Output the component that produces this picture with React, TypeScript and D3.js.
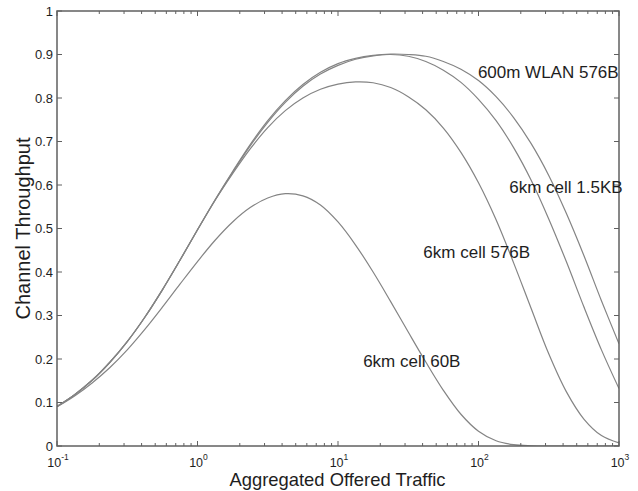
import React from "react";
import * as d3 from "d3";

// Offered traffic G (log-spaced samples, 8 per decade)
const offeredTraffic = [
  0.1, 0.1334, 0.1778, 0.2371, 0.3162, 0.4217, 0.5623, 0.7499,
  1, 1.334, 1.778, 2.371, 3.162, 4.217, 5.623, 7.499,
  10, 13.34, 17.78, 23.71, 31.62, 42.17, 56.23, 74.99,
  100, 133.4, 177.8, 237.1, 316.2, 421.7, 562.3, 749.9, 1000,
];

// Channel throughput S for each configuration
const wlan600m576B = [
  0.091, 0.118, 0.151, 0.192, 0.24, 0.296, 0.359, 0.427,
  0.497, 0.566, 0.631, 0.693, 0.748, 0.794, 0.831, 0.859,
  0.879, 0.891, 0.898, 0.901, 0.9, 0.896, 0.884, 0.866,
  0.84, 0.803, 0.755, 0.695, 0.622, 0.535, 0.438, 0.334, 0.235,
];
const cell6km1500B = [
  0.091, 0.118, 0.151, 0.192, 0.24, 0.296, 0.359, 0.427,
  0.497, 0.565, 0.629, 0.69, 0.744, 0.79, 0.827, 0.855,
  0.875, 0.889, 0.897, 0.9, 0.896, 0.884, 0.864, 0.836,
  0.797, 0.748, 0.686, 0.611, 0.522, 0.424, 0.32, 0.221, 0.132,
];
const cell6km576B = [
  0.091, 0.118, 0.151, 0.192, 0.24, 0.296, 0.359, 0.427,
  0.497, 0.565, 0.626, 0.683, 0.732, 0.771, 0.8, 0.82,
  0.832, 0.837, 0.835, 0.824, 0.803, 0.773, 0.731, 0.675,
  0.605, 0.52, 0.421, 0.316, 0.212, 0.125, 0.062, 0.024, 0.007,
];
const cell6km60B = [
  0.09, 0.115, 0.145, 0.18, 0.221, 0.268, 0.319, 0.372,
  0.424, 0.473, 0.515, 0.548, 0.57, 0.58, 0.575, 0.554,
  0.515, 0.462, 0.4, 0.332, 0.262, 0.193, 0.128, 0.073,
  0.034, 0.012, 0.003, 0.0005, 0, 0, 0, 0, 0,
];

const seriesList = [wlan600m576B, cell6km1500B, cell6km576B, cell6km60B];

// In-plot curve labels, anchored in data coordinates (traffic, throughput)
const labelTexts = ["600m WLAN 576B", "6km cell 1.5KB", "6km cell 576B", "6km cell 60B"];
const labelTraffic = [99, 165.6, 40.5, 15.1];
const labelThroughput = [0.846, 0.582, 0.432, 0.182];

const yTicks = [0, 0.1, 0.2, 0.3, 0.4, 0.5, 0.6, 0.7, 0.8, 0.9, 1];
const yTickLabels = ["0", "0.1", "0.2", "0.3", "0.4", "0.5", "0.6", "0.7", "0.8", "0.9", "1"];
const xDecades = [0.1, 1, 10, 100, 1000];
const xDecadeExponents = ["-1", "0", "1", "2", "3"];

const W = 638;
const H = 491;
const left = 57;
const right = 619;
const top = 11;
const bottom = 446;
const FONT = "'Liberation Sans', Arial, Helvetica, sans-serif";

export default function App() {
  const x = d3.scaleLog().domain([0.1, 1000]).range([left, right]);
  const y = d3.scaleLinear().domain([0, 1]).range([bottom, top]);

  const line = d3
    .line<number>()
    .x((_, i) => x(offeredTraffic[i]))
    .y((d) => y(d))
    .curve(d3.curveCatmullRom.alpha(0.5));

  const minorTicks = x
    .ticks()
    .filter((t) => !xDecades.some((dv) => Math.abs(dv - t) / dv < 1e-6));

  const axisColor = "#606060";
  const textColor = "#1e1e1e";

  return (
    <svg
      width={W}
      height={H}
      style={{ position: "absolute", left: 0, top: 0, background: "#fff" }}
      fontFamily={FONT}
    >
      <defs>
        <clipPath id="plot-area">
          <rect x={left} y={top} width={right - left} height={bottom - top} />
        </clipPath>
      </defs>
      <rect x={0} y={0} width={W} height={H} fill="#ffffff" />

      {/* curves */}
      <g fill="none" stroke="#848484" strokeWidth={1.2} clipPath="url(#plot-area)">
        {seriesList.map((s, i) => (
          <path key={i} d={line(s) || ""} />
        ))}
      </g>

      {/* frame */}
      <rect
        x={left}
        y={top}
        width={right - left}
        height={bottom - top}
        fill="none"
        stroke={axisColor}
        strokeWidth={1.5}
      />

      {/* ticks on all four sides */}
      <g stroke={axisColor} strokeWidth={1}>
        {yTicks.map((t) => (
          <g key={t}>
            <line x1={left} x2={left + 5} y1={y(t)} y2={y(t)} />
            <line x1={right} x2={right - 5} y1={y(t)} y2={y(t)} />
          </g>
        ))}
        {xDecades.map((t) => (
          <g key={t}>
            <line x1={x(t)} x2={x(t)} y1={bottom} y2={bottom - 5} />
            <line x1={x(t)} x2={x(t)} y1={top} y2={top + 5} />
          </g>
        ))}
        {minorTicks.map((t) => (
          <g key={t}>
            <line x1={x(t)} x2={x(t)} y1={bottom} y2={bottom - 3} />
            <line x1={x(t)} x2={x(t)} y1={top} y2={top + 3} />
          </g>
        ))}
      </g>

      {/* y tick labels */}
      <g fill={textColor} fontSize={13} textAnchor="end">
        {yTicks.map((t, i) => (
          <text key={t} x={left - 4} y={y(t) + 4.6}>
            {yTickLabels[i]}
          </text>
        ))}
      </g>

      {/* x tick labels: powers of ten */}
      <g fill={textColor} fontSize={12.5} textAnchor="middle">
        {xDecades.map((t, i) => (
          <text key={t} x={x(t) + 1} y={467}>
            10
            <tspan dy={-7} fontSize={8.5}>
              {xDecadeExponents[i]}
            </tspan>
          </text>
        ))}
      </g>

      {/* axis titles */}
      <text x={337.5} y={486} fontSize={18.4} textAnchor="middle" fill={textColor}>
        Aggregated Offered Traffic
      </text>
      <text
        transform={`translate(29.5, 228.5) rotate(-90)`}
        fontSize={20}
        textAnchor="middle"
        fill={textColor}
      >
        Channel Throughput
      </text>

      {/* curve labels */}
      <g fill={textColor} fontSize={17}>
        {labelTexts.map((t, i) => (
          <text key={t} x={x(labelTraffic[i])} y={y(labelThroughput[i])}>
            {t}
          </text>
        ))}
      </g>
    </svg>
  );
}
